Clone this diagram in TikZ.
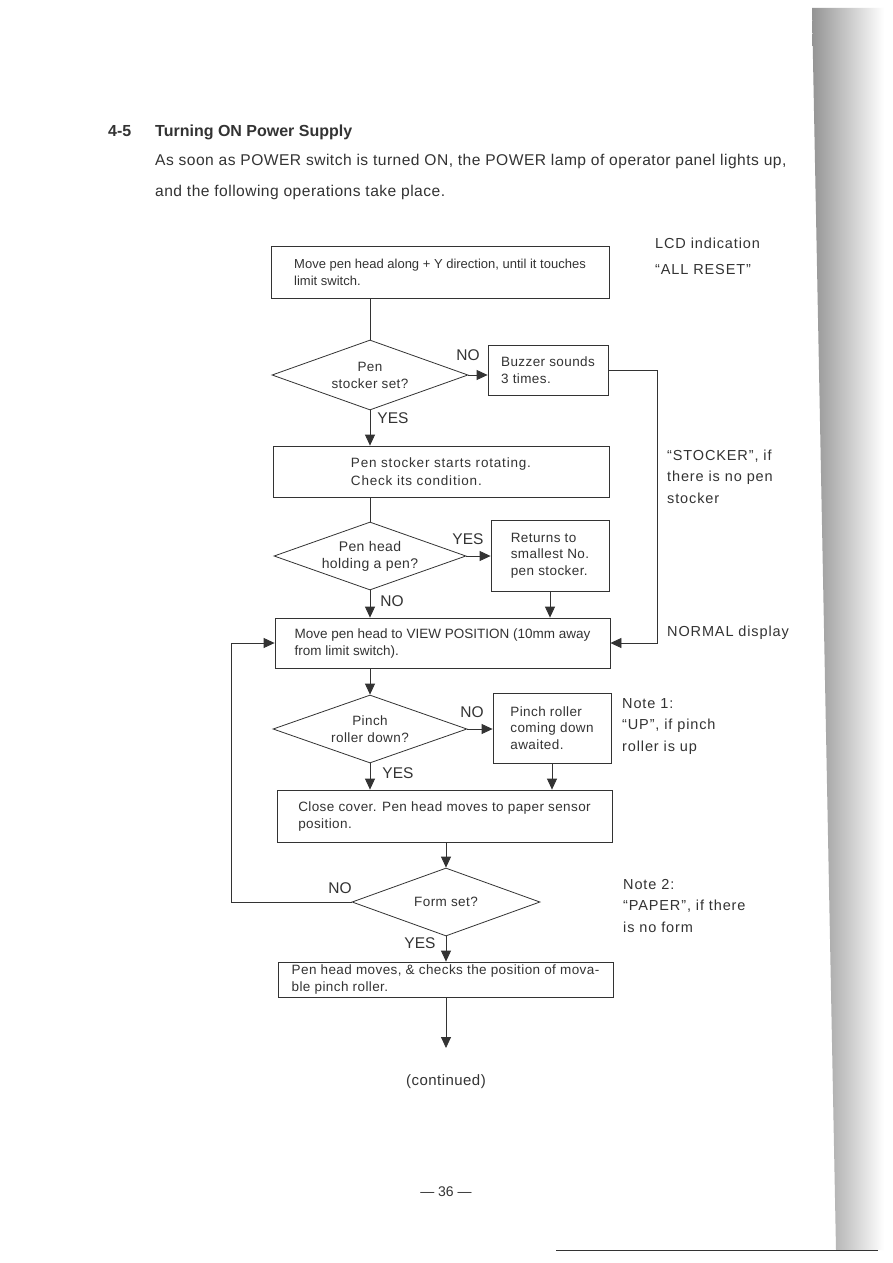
\documentclass[tikz,border=0pt]{standalone}
\usepackage{fontspec}
\setmainfont{Liberation Sans}
\newfontfamily\trackA[LetterSpace=3]{Liberation Sans}
\newfontfamily\trackB[LetterSpace=6]{Liberation Sans}
\usepackage{tikz}
\usetikzlibrary{
  shapes.geometric,%
  arrows.meta,%
  positioning,%
  calc
}
\definecolor{ink}{gray}{0.2}
\tikzset{
  procbox/.style={draw=ink, text=ink, align=left, inner sep=0pt, line width=0.8pt,
    font=\fontsize{13.5}{17}\selectfont},
  decision/.style={diamond, shape aspect=2.8, draw=ink, text=ink, align=center,
    inner sep=0pt, line width=0.8pt, font=\trackA\fontsize{13.5}{17}\selectfont},
  answer/.style={text=ink, inner sep=0pt, font=\fontsize{15.5}{15.5}\selectfont},
  remark/.style={text=ink, anchor=base west, align=left, inner sep=0pt,
    font=\trackB\fontsize{14.5}{21.5}\selectfont},
  flow/.style={draw=ink, line width=0.8pt},
  tip/.style={-{Triangle[length=11pt,width=10pt]}},
}

\begin{document}
\begin{tikzpicture}[x=1pt, y=-1pt]
  \useasboundingbox[fill=white] (0,0) rectangle (893,1263);
  % page edge of the scan
  \shade[left color=black!42, right color=white]
    (812,8) -- (884,8) -- (884,1250) -- (836,1250) -- cycle;
  \draw[ink, line width=0.8pt] (556,1250) -- (878,1250);

  % heading and intro
  \node[text=ink, anchor=base west, inner sep=0pt, font=\bfseries\fontsize{16}{16}\selectfont]
    (secnum) at (108,136) {4-5};
  \node[text=ink, anchor=base west, inner sep=0pt, font=\bfseries\fontsize{16}{16}\selectfont]
    (sectitle) at (155,136) {Turning ON Power Supply};
  \node[remark, font=\trackA\fontsize{15.6}{31}\selectfont] (intro) at (155,196)
    {As soon as POWER switch is turned ON, the POWER lamp of operator panel lights up,\\
     and the following operations take place.};

  % flow chart
  \node[procbox, font=\fontsize{13}{17}\selectfont, minimum width=338pt, minimum height=52pt]
    (move) at (440,272) {Move pen head along + Y direction, until it touches\\limit switch.};
  \node[decision, minimum width=196pt, minimum height=70pt] (stockq) at (370,375)
    {Pen\\stocker set?};
  \node[procbox, font=\trackA\fontsize{13.5}{17}\selectfont, minimum width=120pt, minimum height=50pt]
    (buzz) at (548,370) {Buzzer sounds\\3 times.};
  \node[procbox, font=\trackB\fontsize{13.5}{18}\selectfont, minimum width=336pt, minimum height=51pt]
    (rotate) at (441,471.5) {Pen stocker starts rotating.\\Check its condition.};
  \node[decision, font=\trackA\fontsize{14}{17}\selectfont, minimum width=192pt, minimum height=68pt]
    (holdq) at (370,556) {Pen head\\holding a pen?};
  \node[procbox, font=\trackA\fontsize{13.5}{16.5}\selectfont, minimum width=118pt, minimum height=71pt]
    (retn) at (550,555.5) {Returns to\\smallest No.\\pen stocker.};
  \node[procbox, minimum width=335pt, minimum height=50pt] (view) at (442.5,643)
    {Move pen head to VIEW POSITION (10mm away\\from limit switch).};
  \node[decision, minimum width=194pt, minimum height=68pt] (pinchq) at (370,729)
    {Pinch\\roller down?};
  \node[procbox, font=\trackA\fontsize{13.5}{16.5}\selectfont, minimum width=118pt, minimum height=70pt]
    (await) at (552,728) {Pinch roller\\coming down\\awaited.};
  \node[procbox, font=\trackA\fontsize{13.5}{17}\selectfont, minimum width=335pt, minimum height=52pt]
    (cover) at (444.5,816) {Close cover. Pen head moves to paper sensor\\position.};
  \node[decision, minimum width=188pt, minimum height=68pt] (formq) at (446,902)
    {Form set?};
  \node[procbox, font=\trackA\fontsize{13.5}{17}\selectfont, minimum width=335pt, minimum height=35pt]
    (check) at (445.5,979.5) {Pen head moves, \& checks the position of mova-\\ble pinch roller.};
  \coordinate (more) at (446,1048);
  \coordinate (rline) at (657,0);
  \coordinate (lline) at (231,0);

  % yes / no
  \node[answer] (no1) at (468,355) {NO};
  \node[answer] (yes1) at (393,418) {YES};
  \node[answer] (yes2) at (468,539) {YES};
  \node[answer] (no2) at (392,601) {NO};
  \node[answer] (no3) at (472,712) {NO};
  \node[answer] (yes3) at (398,773) {YES};
  \node[answer] (no4) at (340,888) {NO};
  \node[answer] (yes4) at (420,943) {YES};

  % connectors
  \draw[flow] (stockq.north |- move.south) -- (stockq.north);
  \draw[flow,tip] (stockq.east) -- (stockq.east -| buzz.west);
  \draw[flow,tip] (buzz.east) -- (buzz.east -| rline) |- (view.east);
  \draw[flow,tip] (stockq.south) -- (stockq.south |- rotate.north);
  \draw[flow] (holdq.north |- rotate.south) -- (holdq.north);
  \draw[flow,tip] (holdq.east) -- (holdq.east -| retn.west);
  \draw[flow,tip] (holdq.south) -- (holdq.south |- view.north);
  \draw[flow,tip] (retn.south) -- (retn.south |- view.north);
  \draw[flow,tip] (pinchq.north |- view.south) -- (pinchq.north);
  \draw[flow,tip] (pinchq.east) -- (pinchq.east -| await.west);
  \draw[flow,tip] (pinchq.south) -- (pinchq.south |- cover.north);
  \draw[flow,tip] (await.south) -- (await.south |- cover.north);
  \draw[flow,tip] (formq.north |- cover.south) -- (formq.north);
  \draw[flow,tip] (formq.west) -- (formq.west -| lline) |- (view.west);
  \draw[flow,tip] (formq.south) -- (formq.south |- check.north);
  \draw[flow,tip] (more |- check.south) -- (more);

  % LCD notes
  \node[remark, font=\trackB\fontsize{14.5}{26}\selectfont] (lcd) at (655,274)
    {LCD indication\\“ALL RESET”};
  \node[remark] (nstock) at (667,503) {“STOCKER”, if\\there is no pen\\stocker};
  \node[remark] (nnormal) at (667,636) {NORMAL display};
  \node[remark] (note1) at (622,751) {Note 1:\\“UP”, if pinch\\roller is up};
  \node[remark] (note2) at (623,932) {Note 2:\\“PAPER”, if there\\is no form};

  \node[text=ink, font=\trackA\fontsize{15}{15}\selectfont] (contd) at (446,1082) {(continued)};
  \node[text=ink, font=\fontsize{14}{14}\selectfont] (pageno) at (446,1192) {— 36 —};
\end{tikzpicture}
\end{document}
